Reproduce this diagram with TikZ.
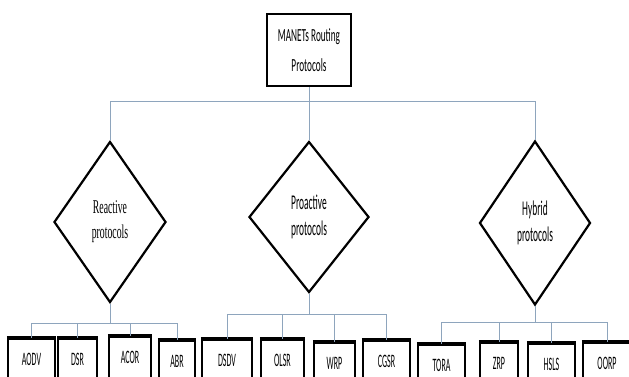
\documentclass[tikz,border=0pt]{standalone}
\usepackage{fontspec}
\usetikzlibrary{shapes.geometric}
\newfontfamily\rootfont[FakeStretch=0.5]{Carlito}
\newfontfamily\classfont[FakeStretch=0.45]{Carlito}
\newfontfamily\leaffont[FakeStretch=0.42]{Carlito}
\newfontfamily\serifclassfont[FakeStretch=0.5]{Liberation Serif}
\definecolor{linkblue}{HTML}{8EA5BD}
\tikzset{
  link/.style={draw=linkblue, line width=0.9pt},
  rootbox/.style={draw, line width=2.6pt, minimum width=84pt, minimum height=72pt,
    align=center, inner sep=0pt, font=\rootfont\fontsize{18.5}{30}\selectfont},
  classbox/.style={diamond, draw, line width=2.2pt, inner sep=0pt, align=center,
    font=\classfont\fontsize{21}{26}\selectfont},
  leafbox/.style={draw, line width=2.4pt, anchor=north, minimum height=41pt,
    inner sep=0pt, font=\leaffont\fontsize{19}{20}\selectfont}
}
\begin{document}
\begin{tikzpicture}[x=1pt, y=-1pt]
  \useasboundingbox[fill=white] (0,0) rectangle (629,376);
  \clip (0,0) rectangle (629,376);
  % Root
  \node[rootbox] (root) at (309,50) {MANETs Routing\\Protocols};
  % Three classes
  \node[classbox, minimum width=112pt, minimum height=161pt,
    font=\serifclassfont\fontsize{19.5}{25}\selectfont] (react) at (110,222) {Reactive\\protocols};
  \node[classbox, minimum width=120pt, minimum height=151pt] (proact) at (309,217) {Proactive\\protocols};
  \node[classbox, minimum width=111pt, minimum height=164pt] (hybrid) at (535,223) {Hybrid\\protocols};
  \coordinate (topbus) at (0,101);
  \draw[link] (root.south) -- (proact.north);
  \draw[link] (react.north) |- (topbus -| hybrid.north) -- (hybrid.north);
  % Leaves
  \foreach \n/\x/\w/\t in {AODV/31.5/47/338, DSR/77.5/39/338, ACOR/130/42/336, ABR/177/36/340,
      DSDV/227/50/339, OLSR/282.5/43/339, WRP/334.5/41/342, CGSR/386.5/47/340,
      TORA/441.5/47/344, ZRP/499/38/342, HSLS/551.5/47/343, OORP/607/48/342} {
    \node[leafbox, minimum width=\w pt] (\n) at (\x,\t) {\n};
    \draw[line width=4pt] (\n.north west) -- (\n.north east);
  }
  % Reactive bus
  \coordinate (rbus) at (0,323);
  \draw[link] (react.south) -- (react.south |- rbus);
  \draw[link] (AODV.north |- rbus) -- (ABR.north |- rbus);
  \foreach \n in {AODV,DSR,ACOR,ABR}
    \draw[link] (\n.north |- rbus) -- (\n.north);
  % Proactive bus
  \coordinate (pbus) at (0,314);
  \draw[link] (proact.south) -- (proact.south |- pbus);
  \draw[link] (DSDV.north |- pbus) -- (CGSR.north |- pbus);
  \foreach \n in {DSDV,OLSR,WRP,CGSR}
    \draw[link] (\n.north |- pbus) -- (\n.north);
  % Hybrid bus
  \coordinate (hbus) at (0,322);
  \draw[link] (hybrid.south) -- (hybrid.south |- hbus);
  \draw[link] (TORA.north |- hbus) -- (OORP.north |- hbus);
  \foreach \n in {TORA,ZRP,HSLS,OORP}
    \draw[link] (\n.north |- hbus) -- (\n.north);
\end{tikzpicture}
\end{document}
